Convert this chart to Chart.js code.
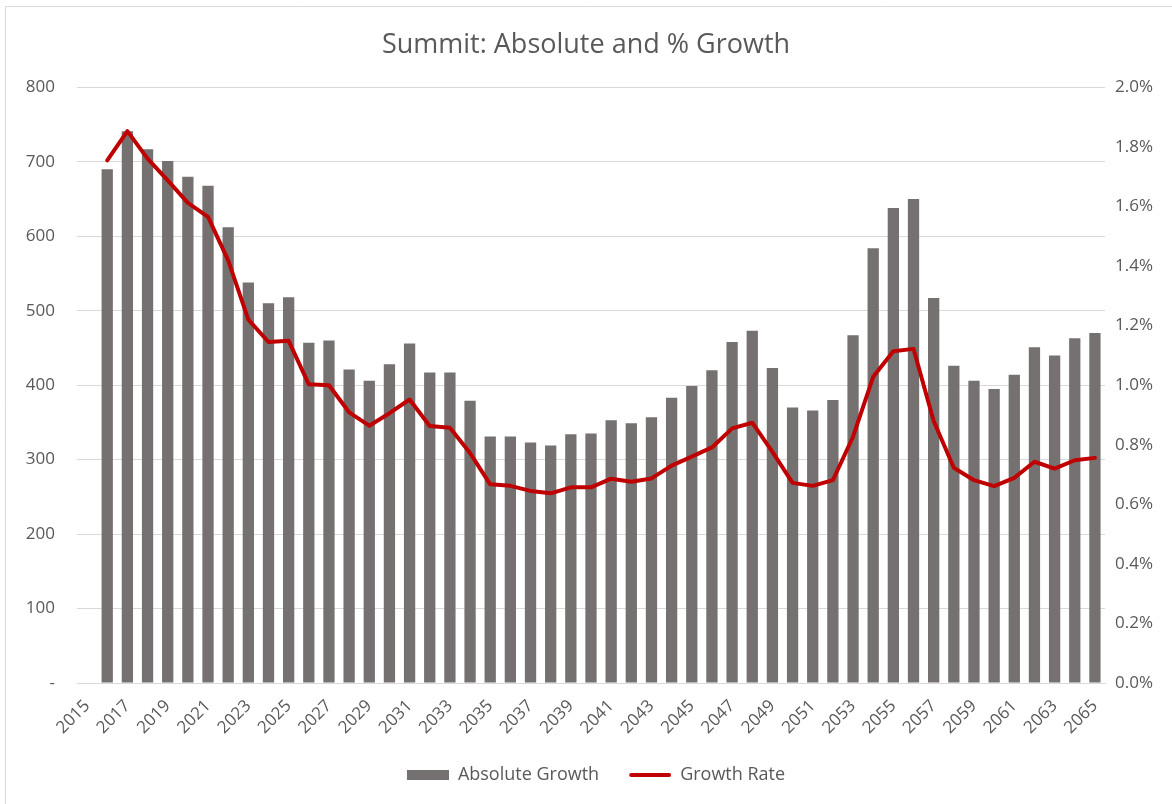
<!DOCTYPE html>
<html>
<head>
<meta charset="utf-8">
<script src="https://cdn.jsdelivr.net/npm/chart.js@4.4.1/dist/chart.umd.min.js"></script>
<style>
  html, body { margin: 0; padding: 0; background: #ffffff; }
  #wrap { width: 1172px; height: 804px; position: relative; }
</style>
</head>
<body>
<div id="wrap"><canvas id="c" width="1172" height="804"></canvas></div>
<script>
const years = [2015,2016,2017,2018,2019,2020,2021,2022,2023,2024,2025,2026,2027,2028,2029,2030,2031,2032,2033,2034,2035,2036,2037,2038,2039,2040,2041,2042,2043,2044,2045,2046,2047,2048,2049,2050,2051,2052,2053,2054,2055,2056,2057,2058,2059,2060,2061,2062,2063,2064,2065];
const absoluteGrowth = [null,690,741,717,701,680,668,612,538,510,518,457,460,421,406,428,456,417,417,379,331,331,323,319,334,335,353,349,357,383,399,420,458,473,423,370,366,380,467,584,638,650,517,426,406,395,414,451,440,463,470];
const growthRate = [null,1.755,1.853,1.761,1.688,1.612,1.565,1.419,1.220,1.145,1.149,1.003,1.000,0.909,0.864,0.906,0.952,0.863,0.857,0.772,0.667,0.662,0.645,0.637,0.657,0.657,0.686,0.676,0.687,0.730,0.760,0.791,0.855,0.874,0.776,0.672,0.662,0.681,0.827,1.028,1.114,1.122,0.880,0.723,0.681,0.661,0.689,0.743,0.720,0.748,0.756];
const leftTicks = [0,100,200,300,400,500,600,700,800];
const rightTicks = [0.0,0.2,0.4,0.6,0.8,1.0,1.2,1.4,1.6,1.8,2.0];

const TXT = '#595959';
const GRID = '#d9d9d9';
const BAR = '#767171';
const RED = '#C00000';
const FONT = "'Open Sans', 'Noto Sans', sans-serif";

// legend swatches (transparent lead-in gives the item spacing)
function swatch(kind) {
  const c = document.createElement('canvas');
  c.width = 62; c.height = 10;
  const g = c.getContext('2d');
  if (kind === 'bar') {
    g.fillStyle = BAR;
    g.fillRect(20, 0, 42, 10);
  } else {
    g.strokeStyle = RED;
    g.lineWidth = 4;
    g.lineCap = 'round';
    g.beginPath();
    g.moveTo(22, 5);
    g.lineTo(60, 5);
    g.stroke();
  }
  return c;
}
const barSwatch = swatch('bar');
const lineSwatch = swatch('line');

const frame = {
  id: 'frame',
  beforeDraw(chart) {
    const ctx = chart.ctx;
    ctx.save();
    ctx.fillStyle = '#ffffff';
    ctx.fillRect(0, 0, chart.width, chart.height);
    ctx.strokeStyle = GRID;
    ctx.lineWidth = 1;
    ctx.beginPath();
    ctx.moveTo(5.5, chart.height);
    ctx.lineTo(5.5, 6.5);
    ctx.lineTo(chart.width, 6.5);
    ctx.stroke();
    ctx.restore();
  }
};

new Chart(document.getElementById('c'), {
  type: 'bar',
  data: {
    labels: years.map(String),
    datasets: [
      {
        type: 'bar',
        label: 'Absolute Growth',
        data: absoluteGrowth,
        backgroundColor: BAR,
        categoryPercentage: 1.0,
        barPercentage: 0.56,
        yAxisID: 'y',
        order: 2
      },
      {
        type: 'line',
        label: 'Growth Rate',
        data: growthRate,
        borderColor: RED,
        backgroundColor: RED,
        borderWidth: 4,
        pointRadius: 0,
        tension: 0,
        borderJoinStyle: 'round',
        borderCapStyle: 'round',
        yAxisID: 'y1',
        order: 1
      }
    ]
  },
  options: {
    responsive: false,
    animation: false,
    devicePixelRatio: 1,
    layout: { padding: { left: 0, right: 0, top: 0, bottom: 10 } },
    plugins: {
      title: {
        display: true,
        text: 'Summit: Absolute and % Growth',
        color: TXT,
        font: { family: FONT, size: 27, weight: 'normal' },
        padding: { top: 29, bottom: 26 }
      },
      legend: {
        position: 'bottom',
        labels: {
          color: TXT,
          font: { family: FONT, size: 18 },
          boxWidth: 62,
          boxHeight: 10,
          usePointStyle: true,
          pointStyleWidth: 62,
          padding: 10,
          generateLabels() {
            return [
              { text: 'Absolute Growth', fillStyle: BAR, strokeStyle: BAR, lineWidth: 0, pointStyle: barSwatch, datasetIndex: 0, fontColor: TXT },
              { text: 'Growth Rate', fillStyle: RED, strokeStyle: RED, lineWidth: 0, pointStyle: lineSwatch, datasetIndex: 1, fontColor: TXT }
            ];
          }
        }
      },
      tooltip: { enabled: false }
    },
    scales: {
      x: {
        grid: { display: false, drawTicks: false },
        border: { display: true, color: GRID, width: 1 },
        ticks: {
          color: TXT,
          font: { family: FONT, size: 17 },
          autoSkip: false,
          maxRotation: 45,
          minRotation: 45,
          padding: 13,
          callback(value, index) { return index % 2 === 0 ? this.getLabelForValue(value) : ''; }
        },
        afterFit(scale) { scale.height = 73; }
      },
      y: {
        position: 'left',
        min: 0,
        max: 800,
        afterBuildTicks(scale) { scale.ticks = leftTicks.map(v => ({ value: v })); },
        grid: { color: GRID, drawTicks: false, lineWidth: 1 },
        border: { display: false },
        ticks: {
          color: TXT,
          font: { family: FONT, size: 17 },
          padding: 22,
          callback(v) { return v === 0 ? '-' : String(v); }
        },
        afterFit(scale) { scale.width = 77; }
      },
      y1: {
        position: 'right',
        min: 0,
        max: 2.0,
        afterBuildTicks(scale) { scale.ticks = rightTicks.map(v => ({ value: v })); },
        grid: { display: false, drawTicks: false },
        border: { display: false },
        ticks: {
          color: TXT,
          font: { family: FONT, size: 17 },
          padding: 10,
          callback(v) { return Number(v).toFixed(1) + '%'; }
        },
        afterFit(scale) { scale.width = 67; }
      }
    }
  },
  plugins: [frame]
});
</script>
</body>
</html>
